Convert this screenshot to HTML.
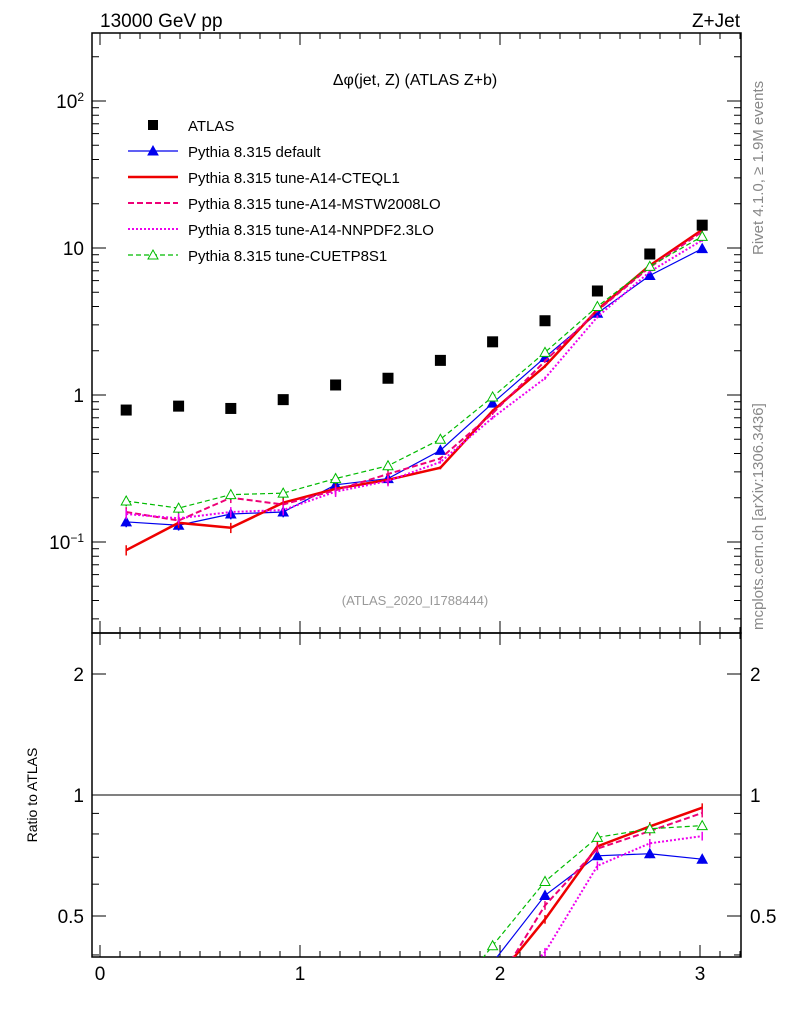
<!DOCTYPE html>
<html><head><meta charset="utf-8"><style>
html,body{margin:0;background:#fff;overflow:hidden;width:786px;height:1024px}
svg{display:block;font-family:"Liberation Sans",sans-serif}
</style></head><body>
<svg id="c" width="786" height="1024" viewBox="0 0 786 1024">
<text x="100" y="27" font-size="19">13000 GeV pp</text>
<text x="740" y="27" font-size="19" text-anchor="end">Z+Jet</text>
<text x="415" y="85" font-size="16" text-anchor="middle">Δφ(jet, Z) (ATLAS Z+b)</text>
<text x="415" y="605" font-size="13" fill="#999" text-anchor="middle">(ATLAS_2020_I1788444)</text>
<text transform="translate(763,255) rotate(-90)" font-size="15" fill="#888">Rivet 4.1.0, ≥ 1.9M events</text>
<text transform="translate(763,630) rotate(-90)" font-size="15" fill="#888">mcplots.cern.ch [arXiv:1306.3436]</text>
<text transform="translate(37,795) rotate(-90)" font-size="14" text-anchor="middle">Ratio to ATLAS</text>
<defs>
<clipPath id="cm"><rect x="92" y="33" width="649" height="600"/></clipPath>
<clipPath id="cr"><rect x="92" y="633" width="649" height="324"/></clipPath>
</defs>
<g id="g"></g>
</svg>
<script>
const xs=[0.131,0.393,0.654,0.916,1.178,1.440,1.702,1.963,2.225,2.487,2.749,3.011];
const atlas=[0.79,0.84,0.81,0.93,1.17,1.30,1.72,2.3,3.2,5.1,9.1,14.3];
const sDefault=[0.137,0.13,0.155,0.16,0.245,0.27,0.42,0.88,1.8,3.6,6.5,9.9];
const sCteq=[0.088,0.135,0.125,0.185,0.23,0.265,0.32,0.78,1.57,3.8,7.6,13.3];
const sMstw=[0.16,0.14,0.2,0.18,0.225,0.29,0.37,0.75,1.7,3.75,7.4,12.9];
const sNnpdf=[0.155,0.145,0.16,0.165,0.22,0.26,0.35,0.7,1.3,3.4,6.9,11.3];
const sCuetp=[0.19,0.17,0.21,0.215,0.27,0.33,0.5,0.97,1.95,4.0,7.5,12.0];
const xTicks=[0,1,2,3];
const yTicks=[[0.1,"10<tspan dy='-7' font-size='12'>−1</tspan>"],[1,"1"],[10,"10"],[100,"10<tspan dy='-7' font-size='12'>2</tspan>"]];
const rTicks=[0.5,1,2];

const X=v=>100+200*v;
const Y=v=>395-147*Math.log10(v);
const R=v=>795-121*Math.log2(v);
const g=document.getElementById('g');
let h='';
const L=92,Rt=741,T=33,M=633,B=957;
h+=`<rect x="${L}" y="${T}" width="${Rt-L}" height="${M-T}" fill="none" stroke="#000" stroke-width="1.5"/>`;
h+=`<rect x="${L}" y="${M}" width="${Rt-L}" height="${B-M}" fill="none" stroke="#000" stroke-width="1.5"/>`;
for(let i=0;i<=32;i++){const v=i/10;const x=X(v);if(x<L||x>Rt)continue;const len=i%10==0?12:6;
 h+=`<line x1="${x}" y1="${B}" x2="${x}" y2="${B-len}" stroke="#000"/><line x1="${x}" y1="${M}" x2="${x}" y2="${M-len}" stroke="#000"/><line x1="${x}" y1="${M}" x2="${x}" y2="${M+len}" stroke="#000"/><line x1="${x}" y1="${T}" x2="${x}" y2="${T+len}" stroke="#000"/>`;}
xTicks.forEach(v=>{h+=`<text x="${X(v)}" y="980" font-size="19" text-anchor="middle">${v}</text>`;});
for(let d=-2;d<=2;d++)for(let k=1;k<=9;k++){const v=k*Math.pow(10,d);const y=Y(v);if(y<T||y>M)continue;const len=k==1?14:7;
 h+=`<line x1="${L}" y1="${y}" x2="${L+len}" y2="${y}" stroke="#000"/><line x1="${Rt}" y1="${y}" x2="${Rt-len}" y2="${y}" stroke="#000"/>`;}
yTicks.forEach(([v,s])=>{h+=`<text x="84" y="${Y(v)+7}" font-size="19" text-anchor="end">${s}</text>`;});
[0.4,0.5,0.6,0.7,0.8,0.9,1,2].forEach(v=>{const y=R(v);const len=(v==0.5||v==1||v==2)?14:7;h+=`<line x1="${L}" y1="${y}" x2="${L+len}" y2="${y}" stroke="#000"/><line x1="${Rt}" y1="${y}" x2="${Rt-len}" y2="${y}" stroke="#000"/>`;});
rTicks.forEach(v=>{h+=`<text x="84" y="${R(v)+7}" font-size="19" text-anchor="end">${v}</text><text x="750" y="${R(v)+7}" font-size="19">${v}</text>`;});
h+=`<line x1="${L}" y1="${R(1)}" x2="${Rt}" y2="${R(1)}" stroke="#000"/>`;
const series=[
 {d:sDefault,c:"#0000ee",w:1.2,da:"",m:"tri",f:true,n:"Pythia 8.315 default"},
 {d:sCteq,c:"#ee0000",w:2.5,da:"",m:"none",n:"Pythia 8.315 tune-A14-CTEQL1"},
 {d:sMstw,c:"#ee0077",w:2,da:"6,3",m:"none",n:"Pythia 8.315 tune-A14-MSTW2008LO"},
 {d:sNnpdf,c:"#ee00ee",w:2,da:"2,2",m:"none",n:"Pythia 8.315 tune-A14-NNPDF2.3LO"},
 {d:sCuetp,c:"#00bb00",w:1.2,da:"5,3",m:"tri",f:false,n:"Pythia 8.315 tune-CUETP8S1"}];
function tri(x,y,s){return `<polygon points="${x},${y-5} ${x-5},${y+4} ${x+5},${y+4}" fill="${s.f?s.c:'#fff'}" stroke="${s.c}"/>`;}
function draw(s,fy,vals,clip,name){
 let pts=xs.map((x,i)=>`${X(x)},${fy(vals[i])}`).join(' ');
 let o=`<g clip-path="url(#${clip})"><polyline points="${pts}" fill="none" stroke="${s.c}" stroke-width="${s.w}" stroke-dasharray="${s.da}"/>`;
 xs.forEach((x,i)=>{const v=vals[i];const e=v*(x<1.6?0.08:0.025);o+=`<line x1="${X(x)}" x2="${X(x)}" y1="${fy(v+e)}" y2="${fy(v-e)}" stroke="${s.c}" stroke-width="1.5"/>`;if(s.m=="tri")o+=tri(X(x),fy(v),s);});
 return o+'</g>';}
series.forEach((s,k)=>{h+=draw(s,Y,s.d,"cm","series-"+k);h+=draw(s,R,s.d.map((v,i)=>v/atlas[i]),"cr","ratio-series-"+k);});
atlas.forEach((v,i)=>{h+=`<rect x="${X(xs[i])-5.5}" y="${Y(v)-5.5}" width="11" height="11" fill="#000"/>`;});
let ly=125;
h+=`<rect x="148" y="${ly-5}" width="10" height="10" fill="#000"/><text x="188" y="${ly+6}" font-size="15">ATLAS</text>`;
series.forEach((s,k)=>{const y=ly+26*(k+1);h+=`<g><line x1="128" x2="178" y1="${y}" y2="${y}" stroke="${s.c}" stroke-width="${s.w}" stroke-dasharray="${s.da}"/>${s.m=="tri"?tri(153,y,s):''}<text x="188" y="${y+6}" font-size="15">${s.n}</text></g>`;});
g.innerHTML=h;
</script>
</body></html>
